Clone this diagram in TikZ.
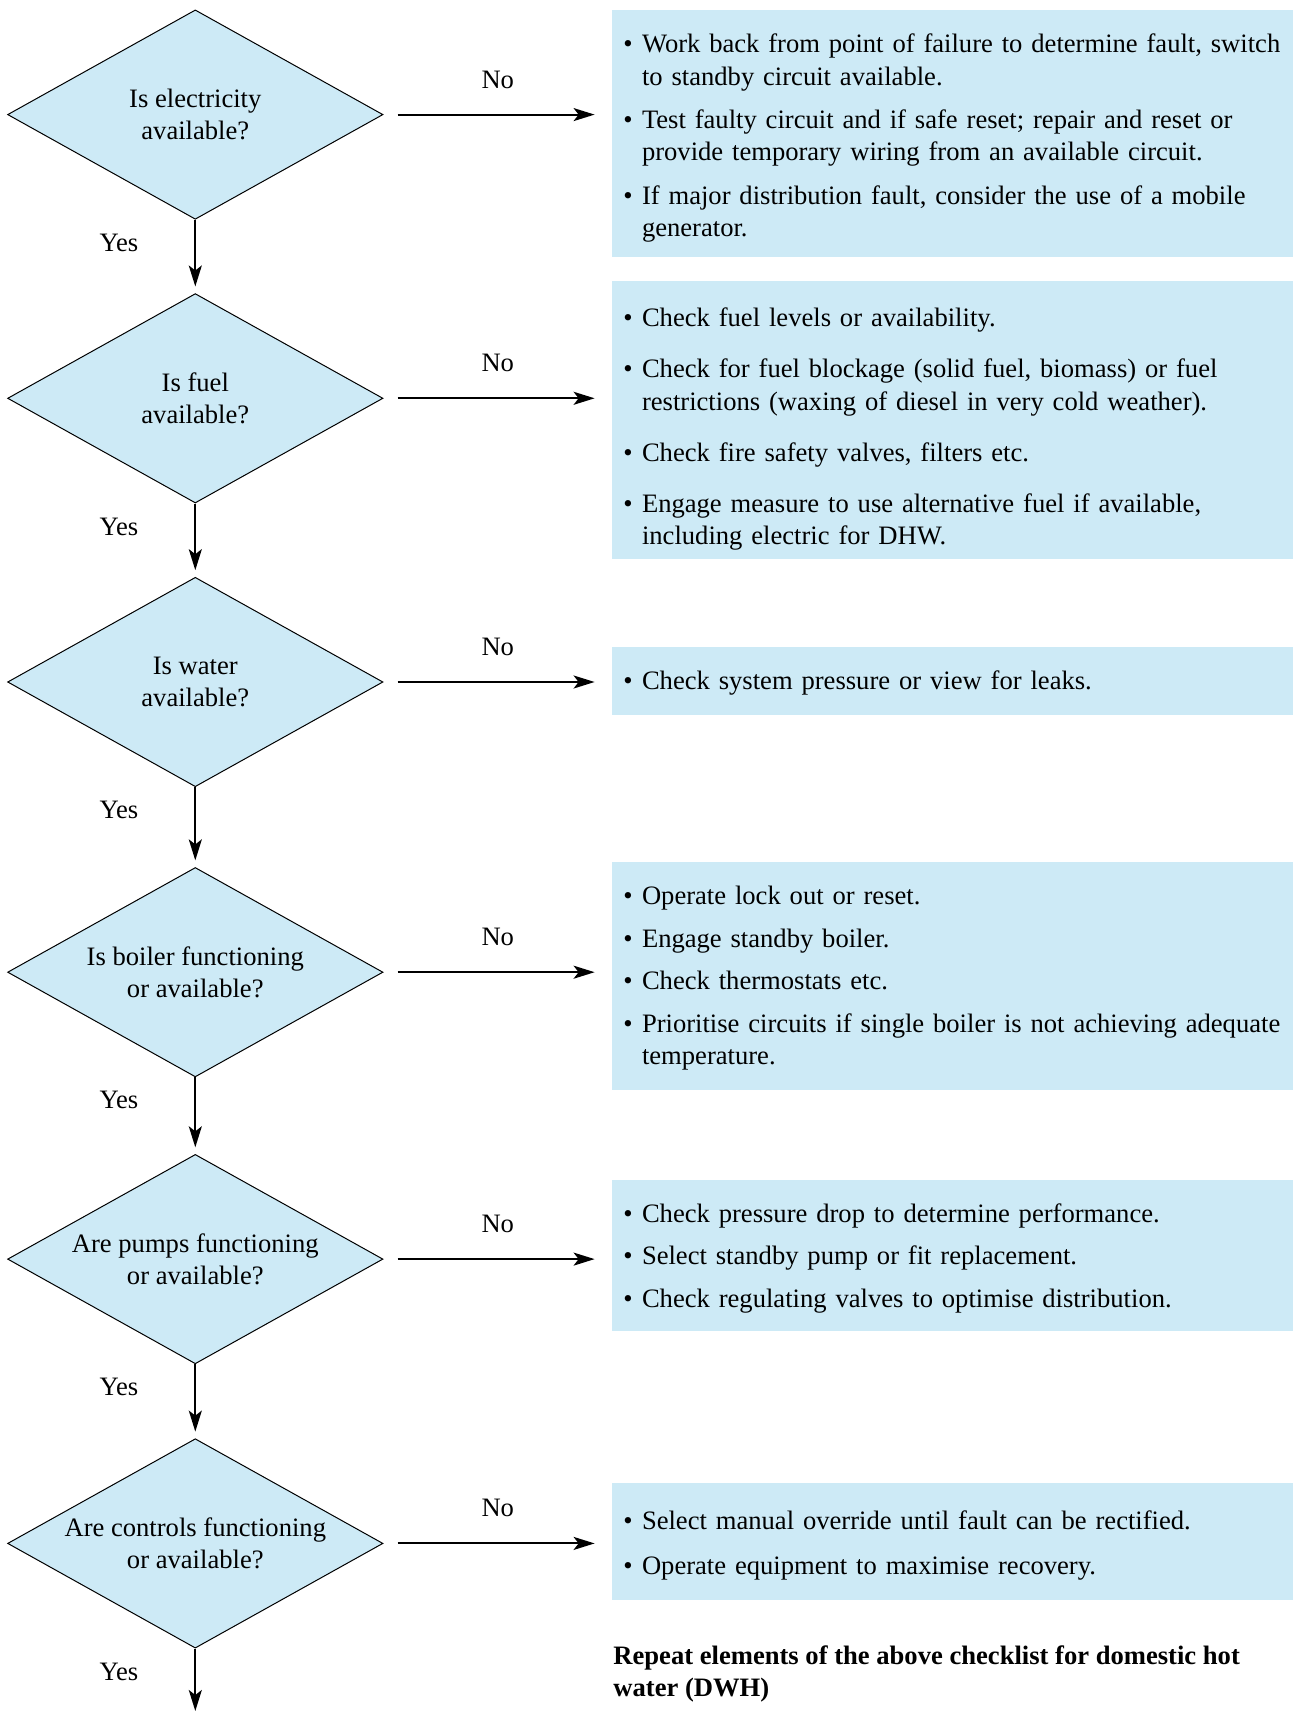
\documentclass[tikz,border=0pt]{standalone}
\usepackage{fontspec}
\setmainfont{Liberation Serif}
\usepackage{xcolor}
\usetikzlibrary{shapes.geometric,arrows.meta,positioning}
\definecolor{paleblue}{RGB}{205,234,246}
% bullet item with hanging indent
\newcommand{\bul}{\par\hangindent=9.3pt\hangafter=1\noindent\makebox[9.3pt][l]{\textbullet}}

\begin{document}
\begin{tikzpicture}[x=0.5pt, y=-0.5pt,
  every node/.style={font=\fontsize{13.3}{16.1}\selectfont},
  ask/.style={diamond, draw, line width=0.5pt, fill=paleblue, aspect=1.79,
    inner sep=0pt, minimum width=187.7pt, minimum height=104.7pt, align=center},
  % #1 = gap between items, #2 = lift of the text
  info/.style 2 args={anchor=north west, fill=paleblue, minimum width=340.5pt,
    inner xsep=5.5pt, inner ysep=0pt, text width=329.5pt, align=left,
    execute at begin node={\setlength{\parskip}{#1}\vspace*{-#2}}},
  flow/.style={line width=1pt, -{Stealth[length=10.5pt, width=6.5pt, inset=2.5pt]}},
]
\useasboundingbox (0,0) rectangle (1293,1711);
% questions
\foreach \i/\y/\q in {
  1/114.6/{Is electricity\\available?},
  2/398.3/{Is fuel\\available?},
  3/682.0/{Is water\\available?},
  4/972.2/{Is boiler functioning\\or available?},
  5/1259.1/{Are pumps functioning\\or available?},
  6/1543.4/{Are controls functioning\\or available?}}
  \node[ask] (d\i) at (195.3, \y) {\q};
% actions
\node[info={5.7pt}{7.6pt}, minimum height=123.3pt] (b1) at (612, 9.8) {%
  \bul Work back from point of failure to determine fault, switch\newline to standby circuit available.
  \bul Test faulty circuit and if safe reset; repair and reset or\newline provide temporary wiring from an available circuit.
  \bul If major distribution fault, consider the use of a mobile\newline generator.\par};
\node[info={9.5pt}{7pt}, minimum height=139.1pt] (b2) at (612, 280.4) {%
  \bul Check fuel levels or availability.
  \bul Check for fuel blockage (solid fuel, biomass) or fuel\newline restrictions (waxing of diesel in very cold weather).
  \bul Check fire safety valves, filters etc.
  \bul Engage measure to use alternative fuel if available,\newline including electric for DHW.\par};
\node[info={0pt}{5.4pt}, minimum height=33.85pt] (b3) at (612, 647.0) {%
  \bul Check system pressure or view for leaks.\par};
\node[info={5.2pt}{10.4pt}, minimum height=114pt] (b4) at (612, 862.0) {%
  \bul Operate lock out or reset.
  \bul Engage standby boiler.
  \bul Check thermostats etc.
  \bul Prioritise circuits if single boiler is not achieving adequate\newline temperature.\par};
\node[info={5.2pt}{8.7pt}, minimum height=75.3pt] (b5) at (612, 1179.5) {%
  \bul Check pressure drop to determine performance.
  \bul Select standby pump or fit replacement.
  \bul Check regulating valves to optimise distribution.\par};
\node[info={6.3pt}{9.3pt}, minimum height=58.4pt] (b6) at (612, 1482.8) {%
  \bul Select manual override until fault can be rectified.
  \bul Operate equipment to maximise recovery.\par};
% No branches
\foreach \i in {1,...,6}
  \draw[flow, shorten <=7pt, shorten >=8.7pt] (d\i.east) -- (d\i.east -| b\i.west)
    node[midway, above=9.3pt] (n\i) {No};
% Yes branches
\coordinate (dend) at (195.3, 1711);
\foreach \i/\j in {1/2, 2/3, 3/4, 4/5, 5/6}
  \draw[flow, shorten >=3.3pt] (d\i.south) -- (d\j.north);
\draw[flow] (d6.south) -- (dend);
\foreach \i in {1,...,6}
  \node (y\i) at ([xshift=-38.2pt, yshift=-11.5pt]d\i.south) {Yes};
\node[anchor=north west, inner sep=0pt, align=left,
  font=\fontsize{13.3}{16.1}\selectfont\bfseries] (note) at (613, 1645)
  {Repeat elements of the above checklist for domestic hot\\water (DWH)};
\end{tikzpicture}
\end{document}
